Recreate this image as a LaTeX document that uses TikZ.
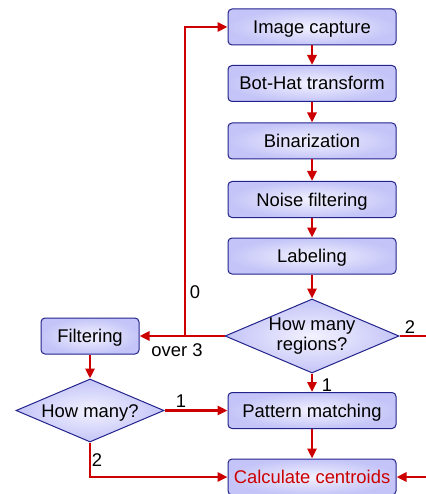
\documentclass[tikz,border=0pt]{standalone}
\usepackage{fontspec}
\setmainfont{Liberation Sans}
\usetikzlibrary{shapes.geometric,arrows.meta}

\definecolor{boxline}{RGB}{35,35,140}
\definecolor{boxfill}{RGB}{196,196,248}
\definecolor{boxlight}{RGB}{242,242,255}
\definecolor{flowred}{RGB}{204,0,0}

\begin{document}
\begin{tikzpicture}
      [ x=1pt, y=-1pt
      , font=\fontsize{18.4}{20}\selectfont
      , stepbox/.style={draw=boxline, line width=1pt, rounded corners=4pt,
          inner color=boxlight, outer color=boxfill,
          minimum width=168pt, minimum height=36pt, inner sep=0pt,
          text height=13pt, text depth=0pt}
      , query/.style={diamond, draw=boxline, line width=1pt,
          inner color=boxlight, outer color=boxfill,
          inner sep=0pt, align=center}
      , flow/.style={flowred, line width=2.6pt,
          -{Triangle[length=10pt,width=9pt]}}
      , lbl/.style={inner sep=0pt}
      ]
    \useasboundingbox (0,0) rectangle (425,494);

    \node[stepbox] (cap) at (312,27) {Image capture};
    \node[stepbox] (bot) at (312,83.5) {Bot-Hat transform};
    \node[stepbox] (bin) at (312,141) {Binarization};
    \node[stepbox] (noise) at (312,199.5) {Noise filtering};
    \node[stepbox] (lab) at (312,256) {Labeling};
    \node[query, minimum width=174pt, minimum height=74pt, aspect=2.35]
      (reg) at (312,336) {How many\\regions?};
    \node[stepbox, minimum width=98pt] (filt) at (90,336) {Filtering};
    \node[query, minimum width=148pt, minimum height=63pt, aspect=2.35,
      text height=13pt, text depth=0pt]
      (many) at (90,410.5) {How many?};
    \node[stepbox] (pat) at (312,410.5) {Pattern matching};
    \node[stepbox, text=flowred] (cent) at (312,477) {Calculate centroids};

    \coordinate (loop) at (185,336);
    \coordinate (out) at (440,400);

    \draw[flow] (cap) -- (bot);
    \draw[flow] (bot) -- (bin);
    \draw[flow] (bin) -- (noise);
    \draw[flow] (noise) -- (lab);
    \draw[flow] (lab) -- (reg);

    \draw[flow] (reg.west) -- (filt.east);
    \draw[flow] (loop) |- (cap.west);
    \draw[flow] (reg.south) -- (pat.north);
    \draw[flow] (reg.east) -| (out) |- (cent.east);

    \draw[flow] (filt) -- (many);
    \draw[flow] (many.east) -- (pat.west);
    \draw[flow] (many.south) |- (cent.west);
    \draw[flow] (pat) -- (cent);

    \node[lbl] (l0) at (195,292) {0};
    \node[lbl] (lover) at (177,350) {over 3};
    \node[lbl] (lr1) at (327,385) {1};
    \node[lbl] (lr2) at (410,327) {2};
    \node[lbl] (lm1) at (181,401) {1};
    \node[lbl] (lm2) at (97,460) {2};

  \end{tikzpicture}
\end{document}
